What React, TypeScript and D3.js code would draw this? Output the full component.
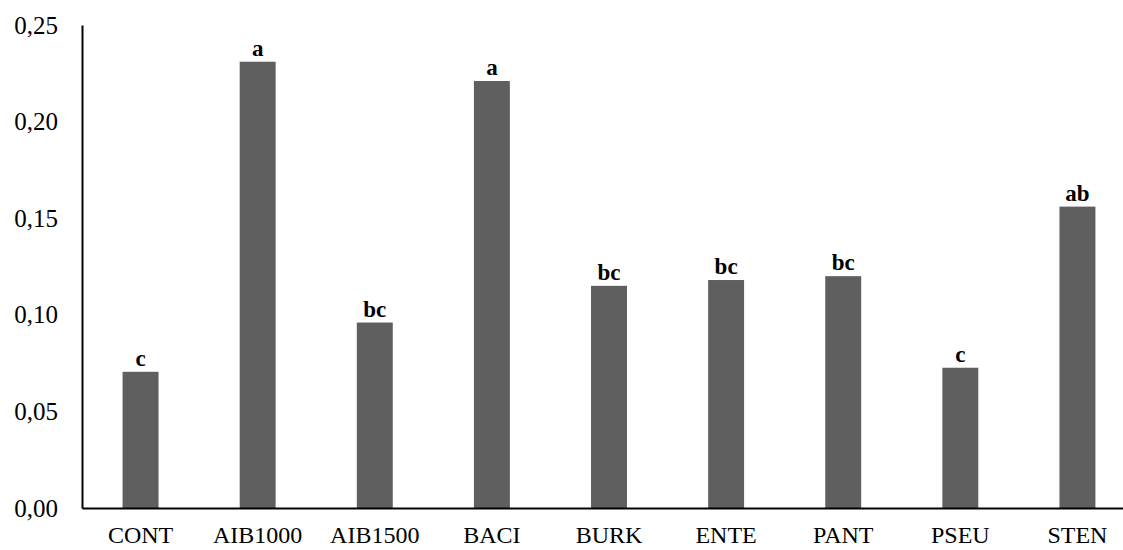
import React, { useEffect, useRef } from "react";
import * as d3 from "d3";

const categories = ["CONT", "AIB1000", "AIB1500", "BACI", "BURK", "ENTE", "PANT", "PSEU", "STEN"];
const values = [0.0705, 0.231, 0.096, 0.221, 0.115, 0.118, 0.12, 0.0726, 0.156];
const letters = ["c", "a", "bc", "a", "bc", "bc", "bc", "c", "ab"];
const yTicks = [0, 0.05, 0.1, 0.15, 0.2, 0.25];

const W = 1123;
const H = 550;
const FONT = "'Liberation Serif', 'Times New Roman', serif";

export default function App() {
  const ref = useRef<SVGSVGElement>(null);

  useEffect(() => {
    if (!ref.current) return;
    const svg = d3.select(ref.current);
    svg.selectAll("*").remove();

    const left = 82;
    const x = d3
      .scaleBand<string>()
      .domain(categories)
      .range([left, 1136])
      .paddingInner(0.693)
      .paddingOuter(0.3465);

    const y = d3.scaleLinear().domain([0, 0.25]).range([508, 25]);
    const fmt = (v: number) => d3.format(".2f")(v).replace(".", ",");

    // bars
    svg
      .append("g")
      .selectAll("rect")
      .data(values)
      .join("rect")
      .attr("x", (_, i) => x(categories[i])!)
      .attr("y", (d) => y(d))
      .attr("width", x.bandwidth())
      .attr("height", (d) => y(0) - y(d))
      .attr("fill", "#5f5f5f");

    // significance letters
    svg
      .append("g")
      .selectAll("text")
      .data(values)
      .join("text")
      .attr("x", (_, i) => x(categories[i])! + x.bandwidth() / 2)
      .attr("y", (d) => y(d) - 6)
      .attr("text-anchor", "middle")
      .attr("font-family", FONT)
      .attr("font-weight", "bold")
      .attr("font-size", 23)
      .text((_, i) => letters[i]);

    // y axis
    const ya = svg
      .append("g")
      .attr("transform", `translate(${left},0)`)
      .call(d3.axisLeft(y).tickValues(yTicks).tickSize(0).tickPadding(24).tickFormat((d) => fmt(d as number)));
    ya.select(".domain").attr("stroke", "#000").attr("stroke-width", 2);
    ya.selectAll("text").attr("font-family", FONT).attr("font-size", 25).attr("fill", "#000");

    // x axis
    const xa = svg
      .append("g")
      .attr("transform", `translate(0,${y(0)})`)
      .call(d3.axisBottom(x).tickSize(0).tickPadding(18));
    xa.select(".domain").attr("stroke", "#000").attr("stroke-width", 2);
    xa.selectAll("text").attr("font-family", FONT).attr("font-size", 24).attr("fill", "#000");
  }, []);

  return (
    <svg
      ref={ref}
      width={W}
      height={H}
      style={{ position: "absolute", left: 0, top: 0, background: "#fff" }}
    />
  );
}
